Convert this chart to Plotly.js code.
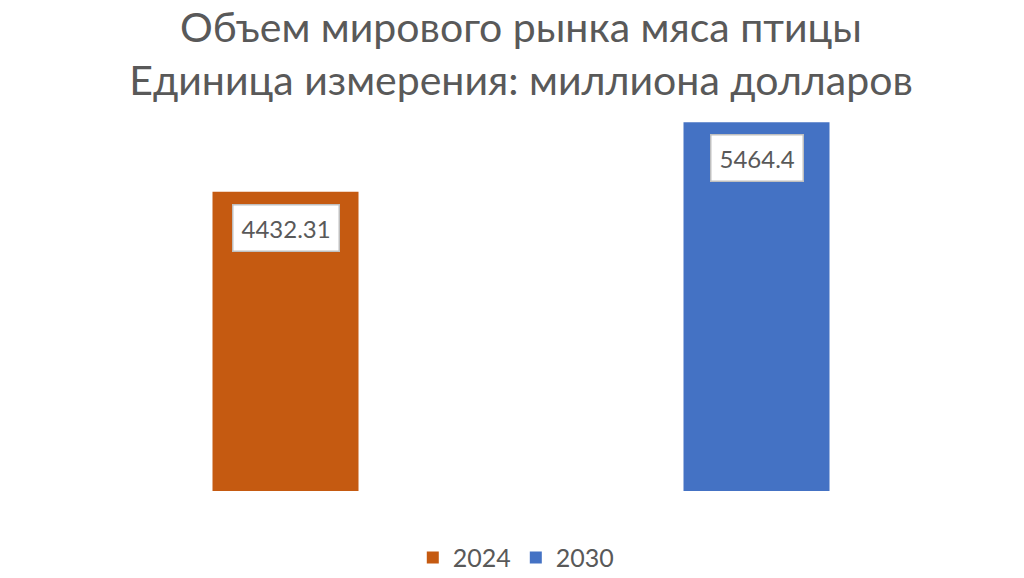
<!DOCTYPE html>
<html>
<head>
<meta charset="utf-8">
<script src="https://cdn.plot.ly/plotly-3.0.1.min.js"></script>
<style>html,body{margin:0;padding:0;background:#fff;}#chart{width:1024px;height:578px;}</style>
</head>
<body>
<div id="chart"></div>
<script>
const categories = ['2024', '2030'];
const values = [4432.31, 5464.4];
const colors = ['#C55A11', '#4472C4'];
const labels = ['4432.31', '5464.4'];

const traces = categories.map((c, i) => ({
  type: 'bar',
  name: c,
  x: [i],
  y: [values[i]],
  width: 0.31,
  marker: {color: colors[i]},
  hoverinfo: 'none'
}));

const annotations = categories.map((c, i) => ({
  x: i, y: values[i], xref: 'x', yref: 'y',
  text: labels[i], showarrow: false,
  yanchor: 'top', yshift: -12,
  bgcolor: '#ffffff', bordercolor: '#BFBFBF', borderwidth: 1.5, borderpad: 8,
  font: {family: 'Lato, Noto Sans, sans-serif', size: 24, color: '#595959'}
}));

const layout = {
  width: 1024, height: 578,
  paper_bgcolor: '#ffffff', plot_bgcolor: '#ffffff',
  margin: {l: 50, r: 32, t: 86, b: 87, autoexpand: false},
  title: {
    text: 'Объем мирового рынка мяса птицы<br>Единица измерения: миллиона долларов',
    font: {family: 'Lato, Noto Sans, sans-serif', size: 41, color: '#595959'},
    x: 0.5, xanchor: 'center', xref: 'paper', yref: 'container', y: 0.927, yanchor: 'middle'
  },
  barmode: 'overlay',
  xaxis: {type: 'linear', range: [-0.5, 1.5], visible: false, fixedrange: true},
  yaxis: {range: [0, 6000], visible: false, showgrid: false, zeroline: false},
  showlegend: true,
  legend: {
    orientation: 'h', x: 0.495, xanchor: 'center', yref: 'container', y: 0.035, yanchor: 'middle',
    font: {family: 'Lato, Noto Sans, sans-serif', size: 25, color: '#595959'},
    traceorder: 'normal'
  },
  annotations: annotations
};

Plotly.newPlot('chart', traces, layout, {displayModeBar: false, staticPlot: true});
</script>
</body>
</html>
